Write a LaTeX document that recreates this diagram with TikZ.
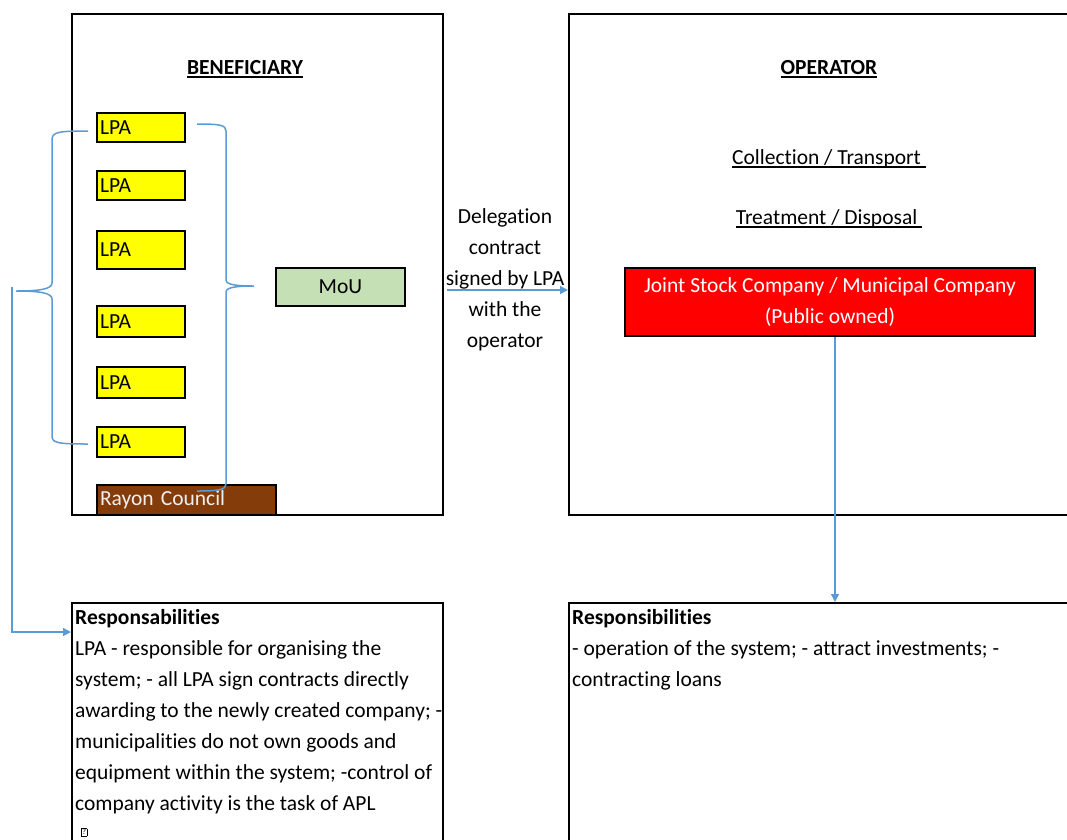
\documentclass[tikz,border=0pt]{standalone}
\usepackage{fontspec}
\setmainfont{Carlito}[Ligatures=NoCommon]
\usetikzlibrary{arrows.meta}

\definecolor{lpayellow}{RGB}{255,255,0}
\definecolor{mougreen}{RGB}{197,224,180}
\definecolor{rayonbrown}{RGB}{132,60,11}
\definecolor{rayontext}{RGB}{240,240,240}
\definecolor{jscred}{RGB}{255,0,0}
\definecolor{linkblue}{RGB}{91,155,213}

\newcommand\ulined[1]{\setbox0\hbox{#1}\copy0\llap{\rule[-4pt]{\wd0}{1.8pt}}}
\newcommand\qmark{{\fontsize{8}{8}\selectfont\setlength\fboxsep{0.6pt}\setlength\fboxrule{0.5pt}\fbox{?}}}

\tikzset{
	frame/.style={draw, line width=2pt, anchor=north west, inner sep=0pt},
	lpa/.style={draw, line width=2pt, fill=lpayellow, anchor=north west, minimum width=88pt,
		text width=82pt, inner xsep=3pt, inner ysep=0pt, align=left},
	link/.style={draw=linkblue, line width=1.5pt},
	tip/.style={-{Triangle[length=8pt,width=8pt]}}
}

\begin{document}
\begin{tikzpicture}[x=1pt,y=-1pt,font=\fontsize{21.5}{31}\selectfont]
		\useasboundingbox (0,0) rectangle (1067,839);
		\clip (0,0) rectangle (1067,839);

		\node[frame, minimum width=371pt, minimum height=501pt] (benef) at (71,13) {};
		\node[frame, minimum width=540pt, minimum height=501pt] (oper) at (568,13) {};
		\node[frame, minimum width=371pt, minimum height=300pt] (respl) at (71,602) {};
		\node[frame, minimum width=540pt, minimum height=300pt] (respr) at (568,602) {};

		\node[anchor=base] (benef title) at (245,74) {\ulined{\bfseries BENEFICIARY}};
		\node[anchor=base] (oper title) at (829,74) {\ulined{\bfseries OPERATOR}};
		\node[anchor=base] (collect) at (829,164) {\ulined{Collection / Transport\ }};
		\node[anchor=base] (treat) at (829,224) {\ulined{Treatment / Disposal\ }};

		\node[lpa, minimum height=29pt] (lpa1) at (96,112) {LPA};
		\node[lpa, minimum height=29pt] (lpa2) at (96,170) {LPA};
		\node[lpa, minimum height=38pt, text depth=-4pt] (lpa3) at (96,230) {LPA};
		\node[lpa, minimum height=31pt] (lpa4) at (96,305) {LPA};
		\node[lpa, minimum height=31pt] (lpa5) at (96,366) {LPA};
		\node[lpa, minimum height=30pt] (lpa6) at (96,426) {LPA};
		\node[lpa, fill=rayonbrown, text=rayontext, minimum width=179pt, text width=173pt,
			minimum height=30pt] (rayon) at (96,484) {Rayon Council};

		\node[draw, line width=2pt, fill=mougreen, anchor=north west, minimum width=129pt,
			minimum height=38pt, inner sep=0pt] (mou) at (275,267) {MoU};

		\node[draw, line width=2pt, fill=jscred, text=white, anchor=north west, minimum width=410pt,
			minimum height=68pt, inner sep=0pt, align=center] (jsc) at (624,267)
			{Joint Stock Company / Municipal Company\\(Public owned)};

		\node[anchor=north, align=center, inner sep=0pt] (deleg) at (505,202)
			{\strut Delegation\\contract\\signed by LPA\\with the\\operator};

		\node[anchor=north west, align=left, inner sep=0pt] (respl text) at (75,603)
			{\strut\textbf{Responsabilities}\\LPA - responsible for organising the\\
			system; - all LPA sign contracts directly\\awarding to the newly created company; -\\
			municipalities do not own goods and\\equipment within the system; -control of\\
			company activity is the task of APL\\[-7pt]\hspace*{6pt}\qmark};
		\node[anchor=north west, align=left, inner sep=0pt] (respr text) at (572,603)
			{\strut\textbf{Responsibilities}\\- operation of the system; - attract investments; -\\
			contracting loans};

		\draw[link] (88,131) .. controls (58,131) and (52,132) .. (52,140) -- (52,283)
			.. controls (52,289) and (40,291) .. (16,291) .. controls (40,291) and (52,293) .. (52,299)
			-- (52,436) .. controls (52,443) and (58,444) .. (88,444);
		\draw[link] (197,124) .. controls (220,124) and (226,125) .. (226,131) -- (226,280)
			.. controls (226,285) and (238,286) .. (254,286) .. controls (238,286) and (226,287) .. (226,292)
			-- (226,484) .. controls (226,490) and (218,491) .. (197,491);

		\draw[link, tip] (12,287) |- ([yshift=-30pt]respl.north west);
		\draw[link, tip, shorten <=3pt] (benef.east |- 0,290) -- (oper.west |- 0,290);
		\draw[link, tip] ([xshift=5pt]jsc.south) -- ([xshift=5pt]jsc.south |- respr.north);
	\end{tikzpicture}
\end{document}
